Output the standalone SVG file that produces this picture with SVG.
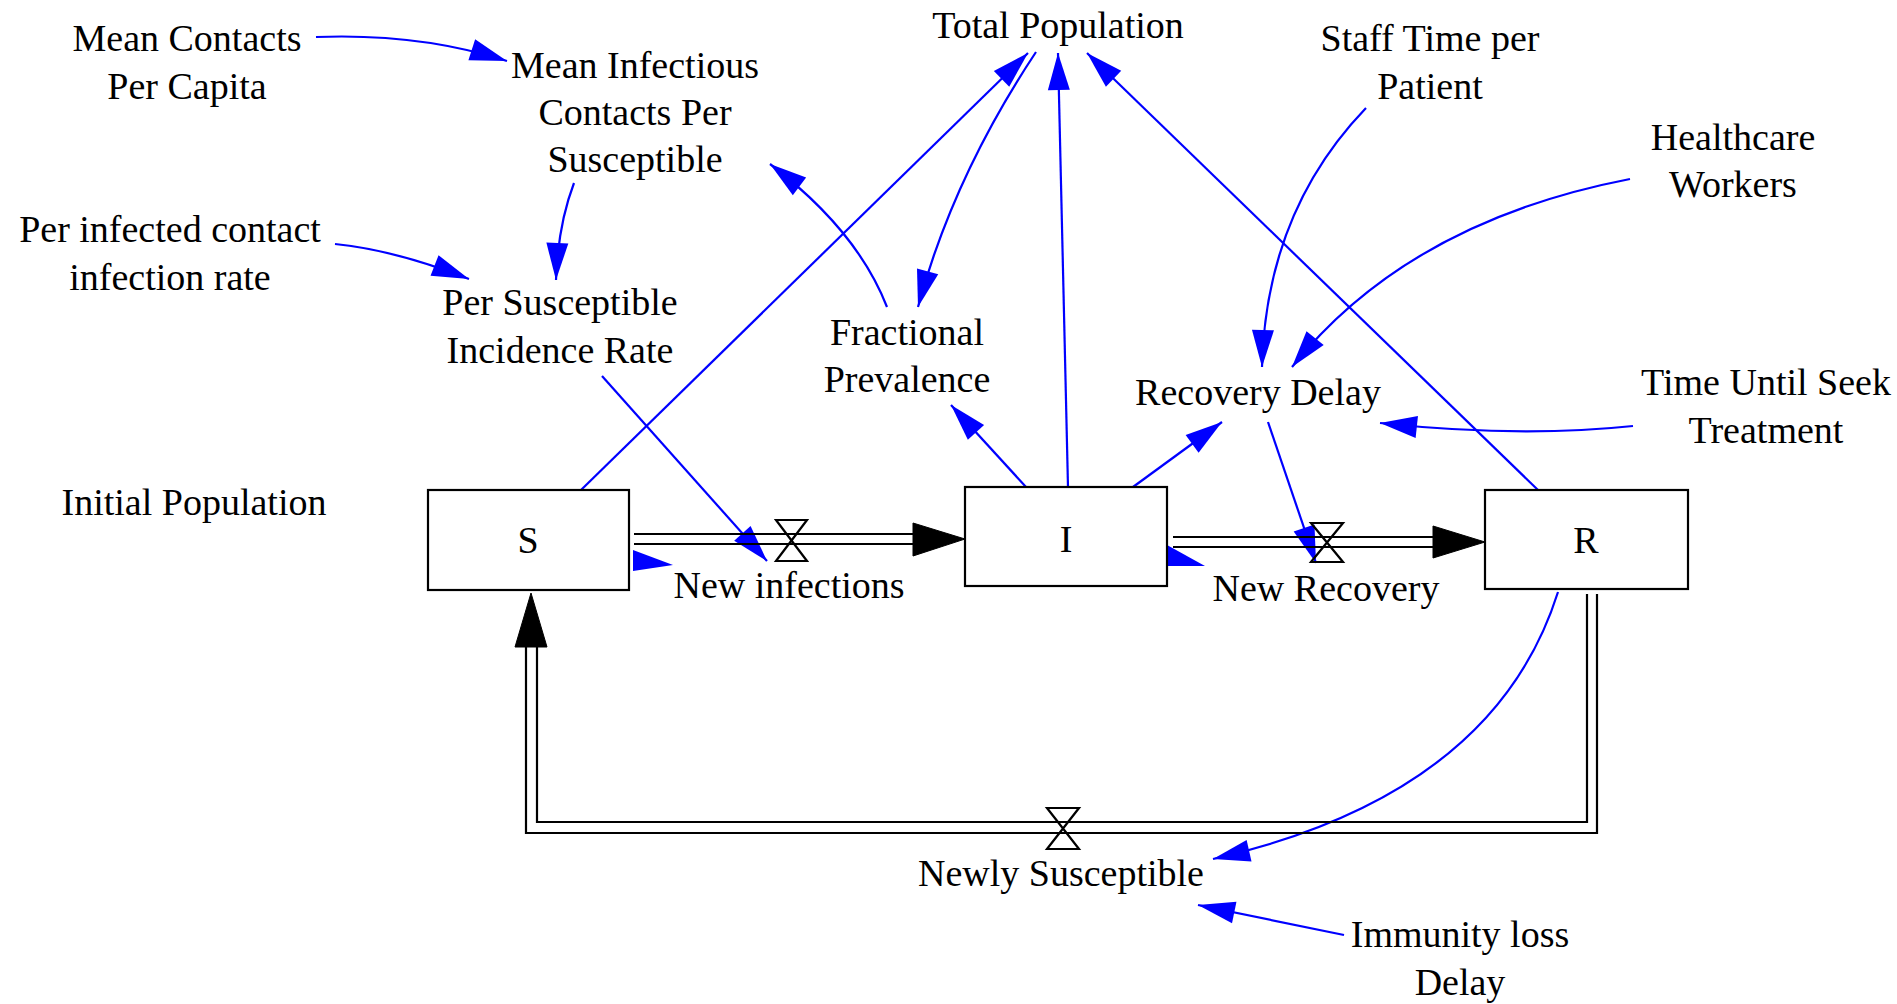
<svg xmlns="http://www.w3.org/2000/svg" width="1897" height="1004" viewBox="0 0 1897 1004">
<defs>
<style>
text{font-family:"Liberation Serif","Times New Roman",serif;font-size:38px;fill:#000;text-anchor:middle}
.box{fill:#fff;stroke:#000;stroke-width:2.2}
.pipe{fill:none;stroke:#000;stroke-width:2.2}
.valve{fill:none;stroke:#000;stroke-width:2.2;stroke-linejoin:miter}
.flowhead{fill:#000;stroke:#000;stroke-width:1}
.link{fill:none;stroke:#0000ff;stroke-width:2.2;marker-end:url(#ah)}
.bluehead{fill:#0000ff}
</style>
<marker id="ah" markerUnits="userSpaceOnUse" markerWidth="40" markerHeight="24" refX="37" refY="11" orient="auto" overflow="visible">
<path d="M0,0 L37,11 L0,22 Z" fill="#0000ff"/>
</marker>
</defs>

<g id="connectors">
<path class="link" d="M316,37 Q420,33 507,61"/>
<path class="link" d="M574,183 Q558,225 556,280"/>
<path class="link" d="M335,244 Q395,250 469,279"/>
<path class="link" d="M602,376 L767,561"/>
<path class="link" d="M581,490 L1028,53"/>
<path class="link" d="M1036,52 Q953,177 918,307"/>
<path class="link" d="M1068,487 L1058,53"/>
<path class="link" d="M1538,490 L1087,53"/>
<path class="link" d="M887,307 Q857,230 770,164"/>
<path class="link" d="M1026,487 L951,405"/>
<path class="link" d="M1133,487 L1222,422"/>
<path class="link" d="M1366,108 Q1266,212 1262,367"/>
<path class="link" d="M1630,179 Q1408,222 1292,367"/>
<path class="link" d="M1633,426 Q1520,438 1380,423"/>
<path class="link" d="M1268,422 L1316,563"/>
<path class="link" d="M1558,592 Q1494,795 1213,859"/>
<path class="link" d="M1344,935 L1198,905"/>
<polygon class="bluehead" points="633,550 633,571 673,565"/>
<polygon class="bluehead" points="1167,545 1166,566 1205,566"/>
</g>

<g id="flow-new-infections">
<line class="pipe" x1="634" y1="534" x2="914" y2="534"/>
<line class="pipe" x1="634" y1="544" x2="914" y2="544"/>
<polygon class="flowhead" points="913,523 965,539 913,556"/>
<path class="valve" d="M776,520 H807 L776,561 H807 Z"/>
<text x="789" y="598">New infections</text>
</g>

<g id="flow-new-recovery">
<line class="pipe" x1="1173" y1="537" x2="1434" y2="537"/>
<line class="pipe" x1="1173" y1="547" x2="1434" y2="547"/>
<polygon class="flowhead" points="1433,526 1485,542 1433,558"/>
<path class="valve" d="M1311,523 H1343 L1311,562 H1343 Z"/>
<text x="1326" y="601">New Recovery</text>
</g>

<g id="flow-newly-susceptible">
<path class="pipe" d="M1597,594 V833 H526 V646"/>
<path class="pipe" d="M1587,594 V822 H537 V646"/>
<polygon class="flowhead" points="515,647 531,593 547,647"/>
<path class="valve" d="M1047,808 H1079 L1047,849 H1079 Z"/>
<text x="1061" y="886">Newly Susceptible</text>
</g>

<g id="stock-S">
<rect class="box" x="428" y="490" width="201" height="100"/>
<text x="528" y="553">S</text>
</g>
<g id="stock-I">
<rect class="box" x="965" y="487" width="202" height="99"/>
<text x="1066" y="552">I</text>
</g>
<g id="stock-R">
<rect class="box" x="1485" y="490" width="203" height="99"/>
<text x="1586" y="553">R</text>
</g>

<g id="mean-contacts-per-capita"><text x="187" y="51">Mean Contacts</text><text x="187" y="99">Per Capita</text></g>
<g id="mean-infectious-contacts"><text x="635" y="78">Mean Infectious</text><text x="635" y="125">Contacts Per</text><text x="635" y="172">Susceptible</text></g>
<g id="per-infected-contact-rate"><text x="170" y="242">Per infected contact</text><text x="170" y="290">infection rate</text></g>
<g id="per-susceptible-incidence"><text x="560" y="315">Per Susceptible</text><text x="560" y="363">Incidence Rate</text></g>
<g id="initial-population"><text x="194" y="515">Initial Population</text></g>
<g id="total-population"><text x="1058" y="38">Total Population</text></g>
<g id="staff-time"><text x="1430" y="51">Staff Time per</text><text x="1430" y="99">Patient</text></g>
<g id="healthcare-workers"><text x="1733" y="150">Healthcare</text><text x="1733" y="197">Workers</text></g>
<g id="fractional-prevalence"><text x="907" y="345">Fractional</text><text x="907" y="392">Prevalence</text></g>
<g id="recovery-delay"><text x="1258" y="405">Recovery Delay</text></g>
<g id="time-until-seek"><text x="1766" y="395">Time Until Seek</text><text x="1766" y="443">Treatment</text></g>
<g id="immunity-loss-delay"><text x="1460" y="947">Immunity loss</text><text x="1460" y="995">Delay</text></g>
</svg>
